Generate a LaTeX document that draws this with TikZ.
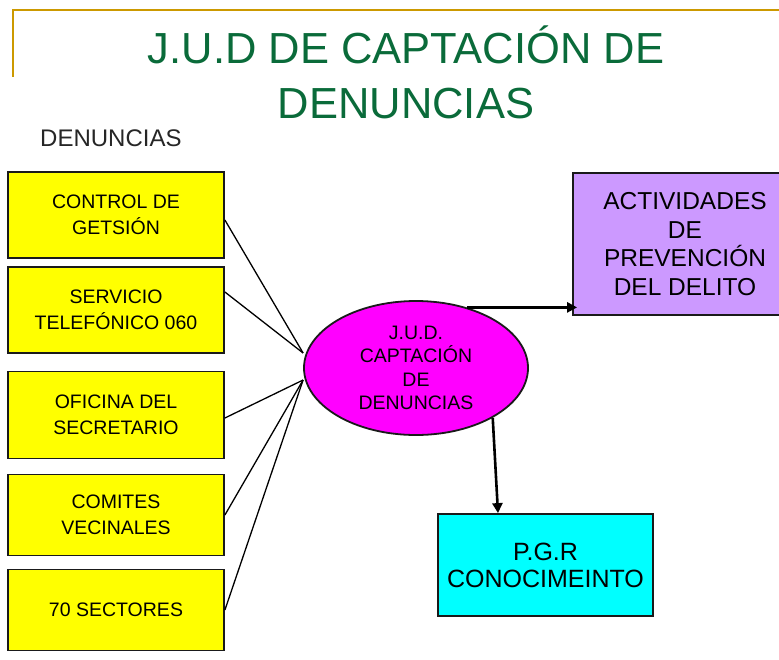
\documentclass[tikz,border=0pt]{standalone}
\usepackage{fontspec}
\setmainfont{Liberation Sans}
\usetikzlibrary{arrows.meta,shapes.geometric}
\definecolor{gold}{HTML}{CC9900}
\definecolor{titlegreen}{HTML}{0A6B3A}
\definecolor{boxline}{HTML}{1A1A1A}
\definecolor{ybfill}{HTML}{FFFF00}
\definecolor{mgfill}{HTML}{FF00FF}
\definecolor{pufill}{HTML}{CC99FF}
\definecolor{cyfill}{HTML}{00FFFF}
\begin{document}
\begin{tikzpicture}[x=1pt,y=-1pt,
  ybox/.style={draw=boxline,line width=1.8pt,fill=ybfill,minimum width=216pt,inner sep=0pt,align=center,font=\fontsize{19.5}{25.5}\selectfont},
  bigbox/.style={draw=boxline,line width=1.8pt,inner sep=0pt,align=center,font=\fontsize{24.5}{28.5}\selectfont},
  conn/.style={line width=1.3pt,black},
  arr/.style={line width=2.6pt,black,-{Triangle[length=10pt,width=10pt]}},
  goldline/.style={draw=gold,line width=1.6pt}]
\useasboundingbox (0,0) rectangle (779,659);
\fill[white] (0,0) rectangle (779,659);
% frame lines
\coordinate (g0) at (13,10);
\coordinate (g1) at (779,10);
\coordinate (g2) at (13,77);
\draw[goldline] (g1) -- (g0) -- (g2);
% title
\node[anchor=base,inner sep=0pt,align=center,text=titlegreen,font=\fontsize{43.5}{55}\selectfont] (title) at (406,118) {J.U.D DE CAPTACIÓN DE\\DENUNCIAS};
\node[anchor=base west,inner sep=0pt,text=black!85,font=\fontsize{24}{28}\selectfont] (lab) at (40,146) {DENUNCIAS};
% yellow boxes
\node[ybox,minimum height=86pt] (b1) at (116,215) {CONTROL DE\\GETSIÓN};
\node[ybox,minimum height=86pt] (b2) at (116,310) {SERVICIO\\TELEFÓNICO 060};
\node[ybox,minimum height=87pt] (b3) at (116,415) {OFICINA DEL\\SECRETARIO};
\node[ybox,minimum height=81pt] (b4) at (116,515) {COMITES\\VECINALES};
\node[ybox,minimum height=81pt] (b5) at (116,610) {70 SECTORES};
% ellipse
\node[ellipse,draw=boxline,line width=1.8pt,fill=mgfill,minimum width=224pt,minimum height=134pt,inner sep=0pt,align=center,font=\fontsize{19.5}{23.3}\selectfont] (e) at (416,368) {J.U.D.\\CAPTACIÓN\\DE\\DENUNCIAS};
% right boxes
\node[bigbox,fill=pufill,minimum width=224pt,minimum height=142pt] (p) at (685,244) {ACTIVIDADES\\DE\\PREVENCIÓN\\DEL DELITO};
\node[bigbox,fill=cyfill,minimum width=215pt,minimum height=102pt,font=\fontsize{25}{27}\selectfont] (g) at (545.5,565) {P.G.R\\CONOCIMEINTO};
% connectors
\draw[conn] ([yshift=-5pt]b1.east) -- ([yshift=15pt]e.west);
\draw[conn] ([yshift=18pt]b2.east) -- ([yshift=15pt]e.west);
\draw[conn] ([yshift=-3pt]b3.east) -- ([yshift=-12pt]e.west);
\draw[conn] (b4.east) -- ([yshift=-12pt]e.west);
\draw[conn] (b5.east) -- ([yshift=-12pt]e.west);
% arrows
\draw[arr,shorten >=-5pt] (e.50) -- (e.50 -| p.west);
\draw[arr] (e.-33) -- ([xshift=-47.5pt]g.north);
\end{tikzpicture}
\end{document}
